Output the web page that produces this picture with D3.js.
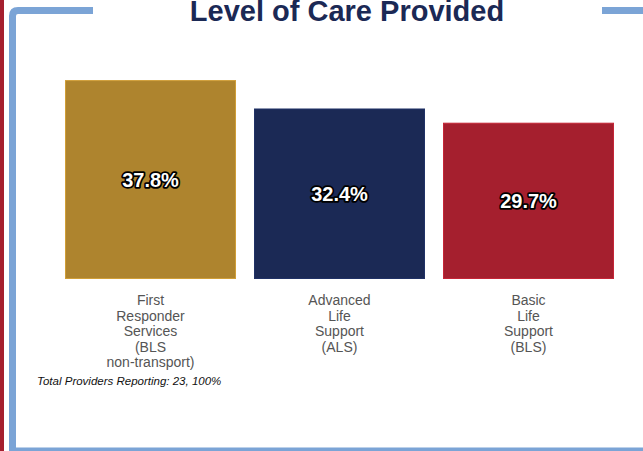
<!DOCTYPE html>
<html><head><meta charset="utf-8">
<script src="https://cdn.jsdelivr.net/npm/d3@7"></script>
<style>html,body{margin:0;padding:0;background:#fff;}svg{display:block;}</style>
</head><body>
<svg id="c" width="643" height="451"></svg>
<script>
const categories = [
  ["First","Responder","Services","(BLS","non-transport)"],
  ["Advanced","Life","Support","(ALS)"],
  ["Basic","Life","Support","(BLS)"]
];
const values = [37.8, 32.4, 29.7];
const colors = ["#AE842E", "#1B2955", "#A51F2E"];
const title = "Level of Care Provided";
const footnote = "Total Providers Reporting: 23, 100%";

const svg = d3.select("#c");
// frame decorations
svg.append("rect").attr("x",0).attr("y",0).attr("width",4).attr("height",451).attr("fill","#A51F2E");
svg.append("path").attr("d","M12.5,451 L12.5,16 Q12.5,10.5 18,10.5 L93,10.5").attr("fill","none").attr("stroke","#7BA4D6").attr("stroke-width",7);
svg.append("line").attr("x1",602).attr("x2",643).attr("y1",10.5).attr("y2",10.5).attr("stroke","#7BA4D6").attr("stroke-width",7);
svg.append("line").attr("x1",9).attr("x2",643).attr("y1",449.5).attr("y2",449.5).attr("stroke","#7BA4D6").attr("stroke-width",4);

svg.append("text").attr("x",347).attr("y",20.5).attr("text-anchor","middle")
  .attr("font-family","Liberation Sans, Arial, sans-serif").attr("font-weight","bold")
  .attr("font-size",29).attr("fill","#1B2955").text(title);

const x = d3.scaleBand().domain(d3.range(values.length)).range([65, 614]).paddingInner(18/189).paddingOuter(0);
const y = d3.scaleLinear().domain([0, 40]).range([279, 68.5]);

const g = svg.append("g");
g.selectAll("rect.bar").data(values).join("rect").attr("class","bar")
  .attr("x",(d,i)=>x(i)+0.5).attr("width",x.bandwidth()-1)
  .attr("y",d=>y(d)+0.5).attr("height",d=>y(0)-y(d)-1)
  .attr("fill",(d,i)=>colors[i]).attr("stroke",(d,i)=>d3.color(colors[i]).brighter(0.5)).attr("stroke-width",1);

g.selectAll("text.val").data(values).join("text").attr("class","val")
  .attr("x",(d,i)=>x(i)+x.bandwidth()/2).attr("y",d=>(y(d)+y(0))/2+7.5)
  .attr("text-anchor","middle").attr("font-family","Liberation Sans, Arial, sans-serif")
  .attr("font-weight","bold").attr("font-size",20).attr("fill","#fff")
  .attr("stroke","#000").attr("stroke-width",3.5).attr("paint-order","stroke").attr("stroke-linejoin","round")
  .text(d=>d.toFixed(1)+"%");

categories.forEach((lines,i)=>{
  const cx = x(i)+x.bandwidth()/2;
  const t = g.append("text").attr("x",cx).attr("y",305)
    .attr("text-anchor","middle").attr("font-family","Liberation Sans, Arial, sans-serif")
    .attr("font-size",14).attr("fill","#555");
  lines.forEach((l,j)=>t.append("tspan").attr("x",cx).attr("y",305+j*15.5).text(l));
});

svg.append("text").attr("x",37).attr("y",385).attr("font-family","Liberation Sans, Arial, sans-serif")
  .attr("font-style","italic").attr("font-size",11.5).attr("fill","#111").text(footnote);
</script>
</body></html>
